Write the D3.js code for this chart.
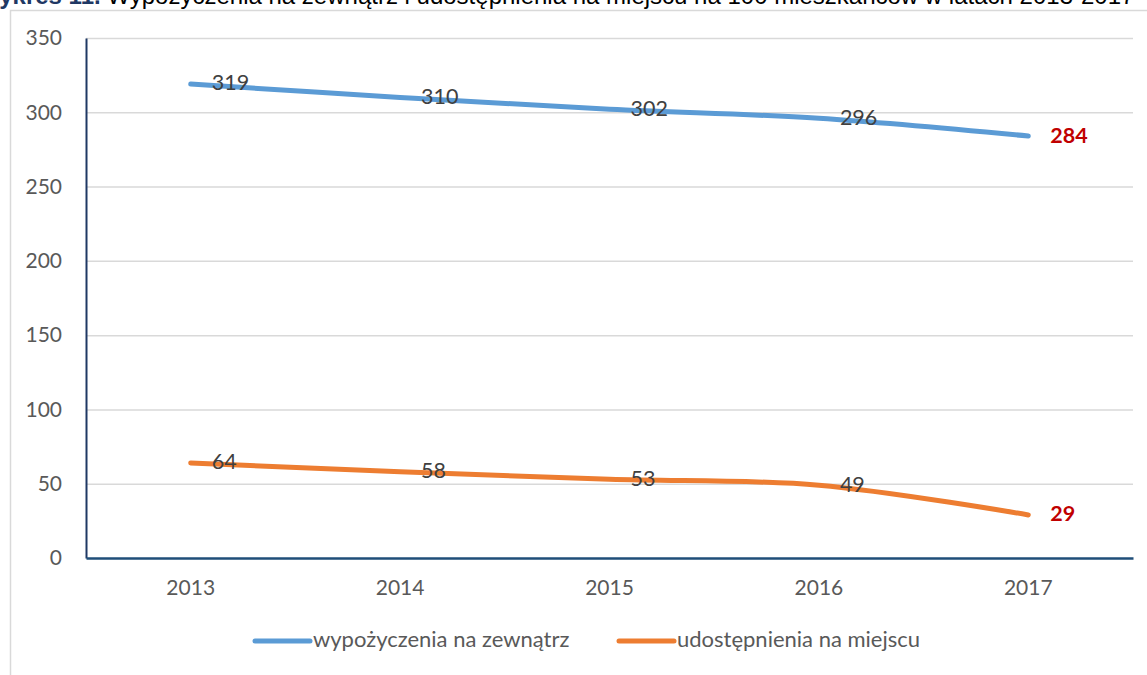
<!DOCTYPE html>
<html>
<head>
<meta charset="utf-8">
<script src="https://cdn.jsdelivr.net/npm/d3@7"></script>
<style>
  html, body { margin: 0; padding: 0; background: #fff; overflow: hidden; }
  svg { display: block; }
</style>
</head>
<body>
<svg id="chart" width="1147" height="675"></svg>
<script>
const titleBold = "Wykres 11.";
const titleText = " Wypożyczenia na zewnątrz i udostępnienia na miejscu na 100 mieszkańców w latach 2013-2017";
const years = ["2013", "2014", "2015", "2016", "2017"];
const seriesNames = ["wypożyczenia na zewnątrz", "udostępnienia na miejscu"];
const loansOut = [319, 310, 302, 296, 284];
const onSite = [64, 58, 53, 49, 29];
const yTicks = [0, 50, 100, 150, 200, 250, 300, 350];
const colors = ["#5B9BD5", "#ED7D31"];

const svg = d3.select("#chart");
const m = { left: 86, right: 1133, top: 38, bottom: 558 };
const font = "Lato, 'Open Sans', sans-serif";

// frame
svg.append("rect").attr("x", 10.5).attr("y", 10.5).attr("width", 1200).attr("height", 700)
  .attr("fill", "none").attr("stroke", "#d9d9d9").attr("stroke-width", 1.5);

// title (clipped at top as in reference)
const t = svg.append("text").attr("x", -23).attr("y", 4)
  .attr("font-family", "'Liberation Sans', Arial, sans-serif").attr("font-size", 24);
t.append("tspan").attr("font-weight", "bold").attr("fill", "#1F3864").text(titleBold);
t.append("tspan").attr("fill", "#000").text(titleText);

const x = d3.scaleBand().domain(years).range([m.left, m.right]);
const y = d3.scaleLinear().domain([0, 350]).range([m.bottom, m.top]);
const cx = d => x(d) + x.bandwidth() / 2;

// gridlines
svg.append("g").selectAll("line").data(yTicks.filter(v => v > 0)).join("line")
  .attr("x1", m.left).attr("x2", m.right)
  .attr("y1", d => y(d) + 0.5).attr("y2", d => y(d) + 0.5)
  .attr("stroke", "#d9d9d9").attr("stroke-width", 1.5);

// y axis
const yAxis = svg.append("g").attr("transform", `translate(${m.left},0)`)
  .call(d3.axisLeft(y).tickValues(yTicks).tickSize(0).tickPadding(24));
yAxis.select(".domain").attr("stroke", "#1F3864").attr("stroke-width", 2);
yAxis.selectAll("text").attr("font-family", font).attr("font-size", 21).attr("fill", "#595959");

// x axis
const xAxis = svg.append("g").attr("transform", `translate(0,${m.bottom})`)
  .call(d3.axisBottom(x).tickSize(0).tickPadding(22));
xAxis.select(".domain").attr("stroke", "#1F4E79").attr("stroke-width", 2.5);
xAxis.selectAll("text").attr("font-family", font).attr("font-size", 21).attr("fill", "#595959");

// lines
const line = d3.line().x((d, i) => cx(years[i])).y(d => y(d)).curve(d3.curveCatmullRom.alpha(0.5));
[loansOut, onSite].forEach((s, k) => {
  svg.append("path").datum(s).attr("d", line)
    .attr("fill", "none").attr("stroke", colors[k]).attr("stroke-width", 5)
    .attr("stroke-linecap", "round").attr("stroke-linejoin", "round");
  svg.append("g").selectAll("text").data(s).join("text")
    .attr("x", (d, i) => cx(years[i]) + (i === s.length - 1 ? 22 : 21))
    .attr("y", d => y(d) + 1)
    .attr("dominant-baseline", "middle")
    .attr("font-family", font).attr("font-size", 21.5)
    .attr("font-weight", (d, i) => i === s.length - 1 ? "bold" : "normal")
    .attr("fill", (d, i) => i === s.length - 1 ? "#C00000" : "#404040")
    .text(d => d);
});

// legend
const leg = [{ x: 253 }, { x: 617 }];
seriesNames.forEach((n, k) => {
  const g = svg.append("g").attr("transform", `translate(${leg[k].x},641)`);
  g.append("line").attr("x1", 2).attr("x2", 57).attr("stroke", colors[k])
    .attr("stroke-width", 5).attr("stroke-linecap", "round");
  g.append("text").attr("x", 60).attr("dominant-baseline", "middle")
    .attr("font-family", font).attr("font-size", 22).attr("fill", "#595959").text(n);
});
</script>
</body>
</html>
